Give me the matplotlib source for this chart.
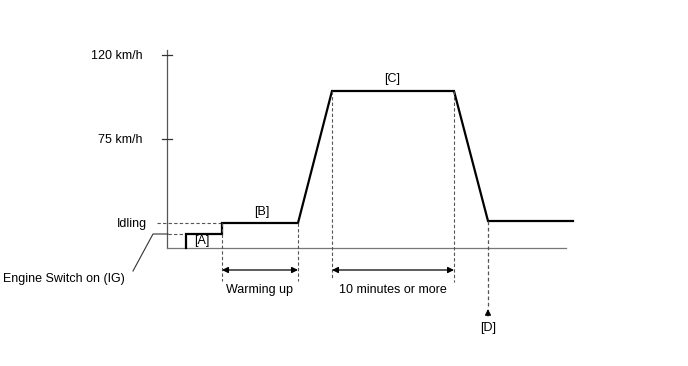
import matplotlib.pyplot as plt

plt.rcParams['font.family'] = ['Liberation Sans', 'DejaVu Sans']

# schematic coordinates (x: time, y: level), measured on a 688x366 canvas, y grows downward
profile_x = [186, 186, 222, 222, 298, 332, 454, 488, 573]
profile_y = [248, 234, 234, 223, 223, 91, 91, 221, 221]

axis_x = 167
axis_top, baseline_y = 50, 248
baseline_end = 566

speed_ticks = [55, 139]
speed_labels = ['120 km/h', '75 km/h']
idle_y = 223
ig_y = 234

fs = 9

fig = plt.figure(figsize=(6.88, 3.66), dpi=100)
ax = fig.add_axes([0, 0, 1, 1])
ax.set_xlim(0, 688)
ax.set_ylim(366, 0)
ax.axis('off')

# axes
ax.plot([axis_x, axis_x], [axis_top, baseline_y], color='#555555', lw=0.9)
ax.plot([axis_x, baseline_end], [baseline_y, baseline_y], color='#777777', lw=0.9)
for ty, lab in zip(speed_ticks, speed_labels):
    ax.plot([axis_x - 5, axis_x + 5], [ty, ty], color='#333333', lw=0.9)
    ax.text(143, ty + 1, lab, ha='right', va='center', fontsize=fs)

# idling / engine switch markers
ax.plot([157, profile_x[2]], [idle_y, idle_y], color='#555555', lw=0.8, ls=(0, (3, 2)))
ax.text(147, idle_y + 1, 'Idling', ha='right', va='center', fontsize=fs)
ax.plot([168, profile_x[0]], [ig_y, ig_y], color='#555555', lw=0.8, ls=(0, (3, 2)))
ax.plot([133, 153, 168], [271, ig_y, ig_y], color='#333333', lw=0.8)
ax.text(3, 279, 'Engine Switch on (IG)', ha='left', va='center', fontsize=fs)

# speed profile
ax.plot(profile_x, profile_y, color='black', lw=1.6, solid_joinstyle='miter')

# vertical dashed guides
guides = [(profile_x[2], idle_y, 281), (profile_x[4], idle_y, 281),
          (profile_x[5], profile_y[5], 279), (profile_x[6], profile_y[6], 282)]
for gx, y0, y1 in guides:
    ax.plot([gx, gx], [y0, y1], color='#555555', lw=0.8, ls=(0, (3, 2)))

# duration arrows
arrow_y = 270
for x0, x1 in [(profile_x[2], profile_x[4]), (profile_x[5], profile_x[6])]:
    ax.annotate('', xy=(x1, arrow_y), xytext=(x0, arrow_y),
                arrowprops=dict(arrowstyle='<|-|>', color='black', lw=0.9,
                                mutation_scale=9, shrinkA=0, shrinkB=0))
ax.text(260, 290, 'Warming up', ha='center', va='center', fontsize=fs)
ax.text(393, 290, '10 minutes or more', ha='center', va='center', fontsize=fs)

# [D] marker
ax.plot([profile_x[7], profile_x[7]], [profile_y[7], 308], color='#555555', lw=0.9, ls=(0, (3, 2)))
ax.annotate('', xy=(profile_x[7], 309), xytext=(profile_x[7], 316),
            arrowprops=dict(arrowstyle='-|>', color='black', lw=0.8,
                            mutation_scale=9, shrinkA=0, shrinkB=0))
ax.text(profile_x[7], 328, '[D]', ha='center', va='center', fontsize=fs)

# phase labels
ax.text(202, 241, '[A]', ha='center', va='center', fontsize=fs)
ax.text(262, 212, '[B]', ha='center', va='center', fontsize=fs)
ax.text(392, 79, '[C]', ha='center', va='center', fontsize=fs)

fig.savefig('out.png', dpi=100)
